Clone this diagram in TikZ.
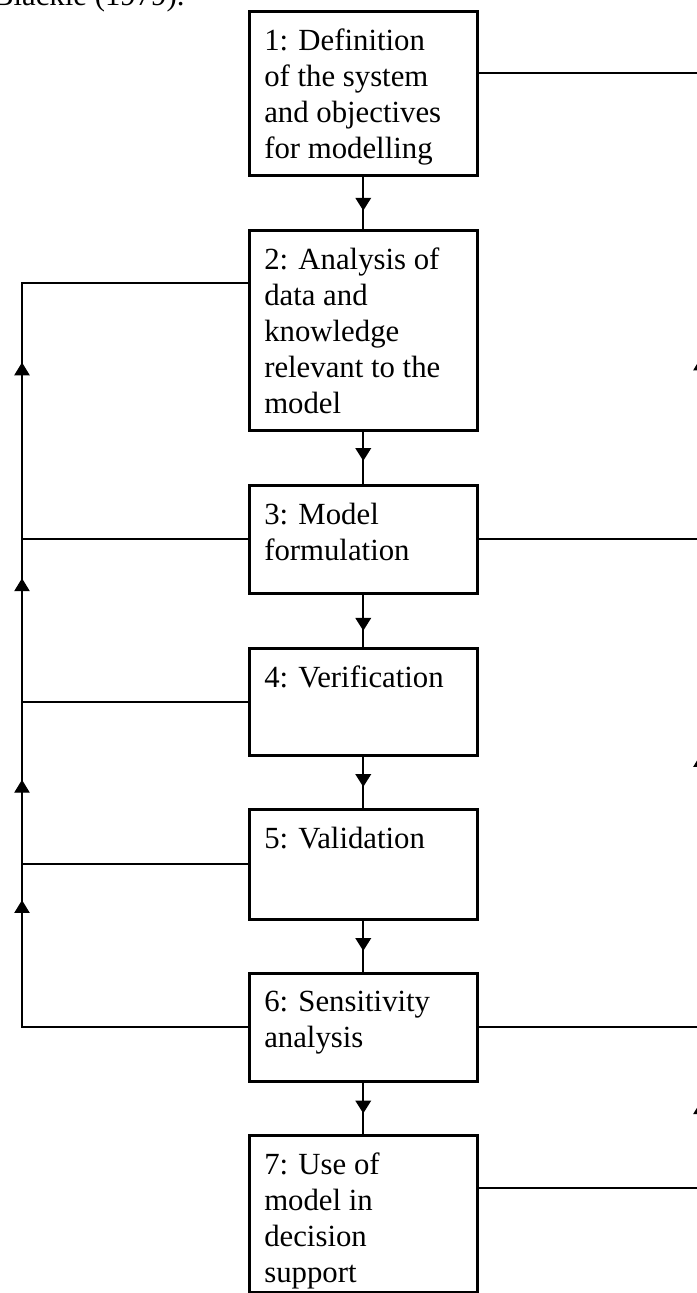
\documentclass[tikz,border=0pt]{standalone}
\usepackage{fontspec}
\setmainfont{Liberation Serif}
\usetikzlibrary{arrows.meta, decorations.markings}
\newcommand{\stg}[2]{%
  \parbox[t][\dimexpr#1-14pt\relax][t]{77.2pt}{#2}}

\begin{document}
\begin{tikzpicture}[
  x=0.39pt, y=-0.39pt,
  font=\fontsize{12pt}{14pt}\selectfont,
  stepbox/.style={rectangle, draw, line width=1pt, anchor=north west,
                  inner xsep=5.85pt, inner ysep=7pt},
  link/.style={line width=0.9pt},
  tipmark/.style={postaction={decorate}, decoration={markings,
      mark=at position #1 with {\arrow{Triangle[length=5pt,width=6pt]}}}},
  flow/.style={link, tipmark=#1},
]
\useasboundingbox (0,0) rectangle (696,1293);

% ── caption fragment, cut by the page edge ───────────────────────────────
\node[anchor=base east, inner sep=0pt] (src) at (185,5) {Blackie (1979).};

% ── main column ──────────────────────────────────────────────────────────
\node[stepbox] (s1) at (248,10)   {\stg{63.96pt}{1: Definition\\ of the system\\ and objectives\\ for modelling}};
\node[stepbox] (s2) at (248,229)  {\stg{78pt}{2: Analysis of\\ data and\\ knowledge\\ relevant to the\\ model}};
\node[stepbox] (s3) at (248,484)  {\stg{42.12pt}{3: Model\\ formulation}};
\node[stepbox] (s4) at (248,647)  {\stg{41.73pt}{4: Verification}};
\node[stepbox] (s5) at (248,808)  {\stg{42.9pt}{5: Validation}};
\node[stepbox] (s6) at (248,972)  {\stg{42.12pt}{6: Sensitivity\\ analysis}};
\node[stepbox] (s7) at (248,1134) {\stg{61.2pt}{7: Use of\\ model in\\ decision\\ support}};

\draw[flow=0.65] (s1) -- (s2);
\draw[flow=0.56] (s2) -- (s3);
\draw[flow=0.69] (s3) -- (s4);
\draw[flow=0.59] (s4) -- (s5);
\draw[flow=0.59] (s5) -- (s6);
\draw[flow=0.6]  (s6) -- (s7);

% ── left feedback bus ────────────────────────────────────────────────────
\coordinate (lbus) at (22,0);
\coordinate (l2) at (22,283);
\coordinate (l3) at (s3.west -| lbus);
\coordinate (l4) at (s4.west -| lbus);
\coordinate (l5) at (s5.west -| lbus);
\coordinate (l6) at (s6.west -| lbus);

\draw[link] (s6.west) -- (l6) -- (l2) -- (l2 -| s2.west);
\draw[link] (s3.west) -- (l3);
\draw[link] (s4.west) -- (l4);
\draw[link] (s5.west) -- (l5);
\path[tipmark=0.78] (l6) -- (l5);
\path[tipmark=0.52] (l5) -- (l4);
\path[tipmark=0.76] (l4) -- (l3);
\path[tipmark=0.69] (l3) -- (l2);

% ── right feedback bus (mostly beyond the page edge) ─────────────────────
\coordinate (rbus) at (701,0);
\coordinate (r1) at (701,73);
\coordinate (r3) at (s3.east -| rbus);
\coordinate (r6) at (s6.east -| rbus);
\coordinate (r7) at (701,1188);

\draw[link] (r7 -| s7.east) -- (r7) -- (r1) -- (r1 -| s1.east);
\draw[link] (s3.east) -- (r3);
\draw[link] (s6.east) -- (r6);
\path[tipmark=0.54] (r7) -- (r6);
\path[tipmark=0.56] (r6) -- (r3);
\path[tipmark=0.39] (r3) -- (r1);

\end{tikzpicture}
\end{document}
